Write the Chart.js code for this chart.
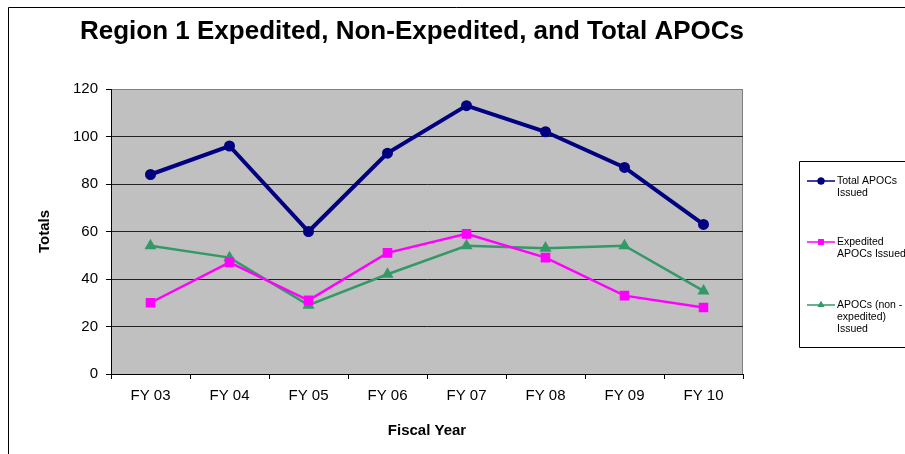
<!DOCTYPE html>
<html>
<head>
<meta charset="utf-8">
<title>Region 1 APOCs</title>
<script src="https://cdn.jsdelivr.net/npm/chart.js@4"></script>
<style>
  html, body { margin: 0; padding: 0; background: #fff; }
  #wrap { width: 905px; height: 454px; }
</style>
</head>
<body>
<div id="wrap"><canvas id="apocChart" width="905" height="454"></canvas></div>
<script>
// ========== 데이터 ==========
const fiscalYears = ['FY 03', 'FY 04', 'FY 05', 'FY 06', 'FY 07', 'FY 08', 'FY 09', 'FY 10'];
const totalApocs = [84, 96, 60, 93, 113, 102, 87, 63];
const expeditedApocs = [30, 47, 31, 51, 59, 49, 33, 28];
const nonExpeditedApocs = [54, 49, 29, 42, 54, 53, 54, 35];
const legendLines = [
  ['Total APOCs', 'Issued'],
  ['Expedited', 'APOCs Issued'],
  ['APOCs (non -', 'expedited)', 'Issued']
];

const FONT = 'Arial, "Liberation Sans", sans-serif';
const TITLE = 'Region 1 Expedited, Non-Expedited, and Total APOCs';

// 배경, 테두리, 제목
const framePlugin = {
  id: 'frame',
  beforeDraw(chart) {
    const { ctx, chartArea: a } = chart;
    ctx.save();
    ctx.fillStyle = '#fff';
    ctx.fillRect(0, 0, chart.width, chart.height);
    // outer chart border
    ctx.strokeStyle = '#000';
    ctx.lineWidth = 1;
    ctx.beginPath();
    ctx.moveTo(8.5, chart.height);
    ctx.lineTo(8.5, 7.5);
    ctx.lineTo(chart.width, 7.5);
    ctx.stroke();
    // plot area
    ctx.fillStyle = '#C0C0C0';
    ctx.fillRect(a.left, a.top, a.right - a.left, a.bottom - a.top);
    ctx.strokeStyle = '#808080';
    ctx.strokeRect(a.left + 0.5, a.top + 0.5, a.right - a.left - 1, a.bottom - a.top);
    // title
    ctx.fillStyle = '#000';
    ctx.font = 'bold 26px ' + FONT;
    ctx.textAlign = 'center';
    ctx.textBaseline = 'alphabetic';
    ctx.fillText(TITLE, 412, 39);
    ctx.restore();
  }
};

// 범례 (박스 + 선 + 마커)
const legendPlugin = {
  id: 'boxLegend',
  afterDraw(chart) {
    const { ctx } = chart;
    const rowY = [181, 242, 305];
    ctx.save();
    ctx.strokeStyle = '#000';
    ctx.lineWidth = 1;
    ctx.beginPath();
    ctx.moveTo(chart.width, 161.5);
    ctx.lineTo(799.5, 161.5);
    ctx.lineTo(799.5, 347.5);
    ctx.lineTo(chart.width, 347.5);
    ctx.stroke();
    chart.data.datasets.forEach((ds, i) => {
      const y = rowY[i];
      ctx.strokeStyle = ds.borderColor;
      ctx.lineWidth = 1.5;
      ctx.beginPath();
      ctx.moveTo(807, y);
      ctx.lineTo(835, y);
      ctx.stroke();
      ctx.fillStyle = ds.pointBackgroundColor;
      Chart.helpers.drawPoint(ctx, {
        pointStyle: ds.pointStyle,
        radius: ds.pointStyle === 'circle' ? 3.5 : 4,
        borderWidth: 0,
        rotation: 0
      }, 821, y);
      ctx.fill();
      ctx.fillStyle = '#000';
      ctx.font = '10.5px ' + FONT;
      ctx.textAlign = 'left';
      ctx.textBaseline = 'middle';
      legendLines[i].forEach((t, j) => ctx.fillText(t, 837, y + j * 12));
    });
    ctx.restore();
  }
};

new Chart(document.getElementById('apocChart'), {
  type: 'line',
  data: {
    labels: fiscalYears,
    datasets: [
      {
        label: 'Total APOCs Issued',
        data: totalApocs,
        borderColor: '#000080',
        backgroundColor: '#000080',
        pointBackgroundColor: '#000080',
        pointBorderColor: '#000080',
        borderWidth: 4,
        pointStyle: 'circle',
        pointRadius: 3.5,
        tension: 0
      },
      {
        label: 'Expedited APOCs Issued',
        data: expeditedApocs,
        borderColor: '#FF00FF',
        backgroundColor: '#FF00FF',
        pointBackgroundColor: '#FF00FF',
        pointBorderColor: '#FF00FF',
        borderWidth: 2.5,
        pointStyle: 'rect',
        pointRadius: 5,
        tension: 0
      },
      {
        label: 'APOCs (non - expedited) Issued',
        data: nonExpeditedApocs,
        borderColor: '#339966',
        backgroundColor: '#339966',
        pointBackgroundColor: '#339966',
        pointBorderColor: '#339966',
        borderWidth: 2.5,
        pointStyle: 'triangle',
        pointRadius: 4.5,
        tension: 0
      }
    ]
  },
  options: {
    responsive: false,
    animation: false,
    layout: { padding: { top: 89, right: 162, bottom: 0, left: 0 } },
    plugins: {
      legend: { display: false },
      title: { display: false },
      tooltip: { enabled: false }
    },
    scales: {
      x: {
        offset: true,
        grid: { offset: true, drawOnChartArea: false, drawTicks: true, tickLength: 5, tickColor: '#000' },
        border: { display: true, color: '#000', width: 1 },
        ticks: { color: '#000', padding: 8, font: { family: FONT, size: 15 }, maxRotation: 0 },
        title: { display: true, text: 'Fiscal Year', color: '#000', font: { family: FONT, size: 15, weight: 'bold' }, padding: { top: 0, bottom: 14 } },
        afterFit(scale) { scale.height = 80; }
      },
      y: {
        min: 0,
        max: 120,
        ticks: { stepSize: 20, color: '#000', padding: 8, font: { family: FONT, size: 15 } },
        grid: {
          color: ctx => (ctx.tick && ctx.tick.value === 120 ? '#808080' : '#222'),
          lineWidth: 1,
          drawTicks: true,
          tickLength: 5,
          tickColor: '#000'
        },
        border: { display: true, color: '#000', width: 1 },
        title: { display: true, text: 'Totals', color: '#000', font: { family: FONT, size: 15, weight: 'bold' }, padding: { top: 36, bottom: 0 } },
        afterFit(scale) { scale.width = 111; }
      }
    }
  },
  plugins: [framePlugin, legendPlugin]
});
</script>
</body>
</html>
